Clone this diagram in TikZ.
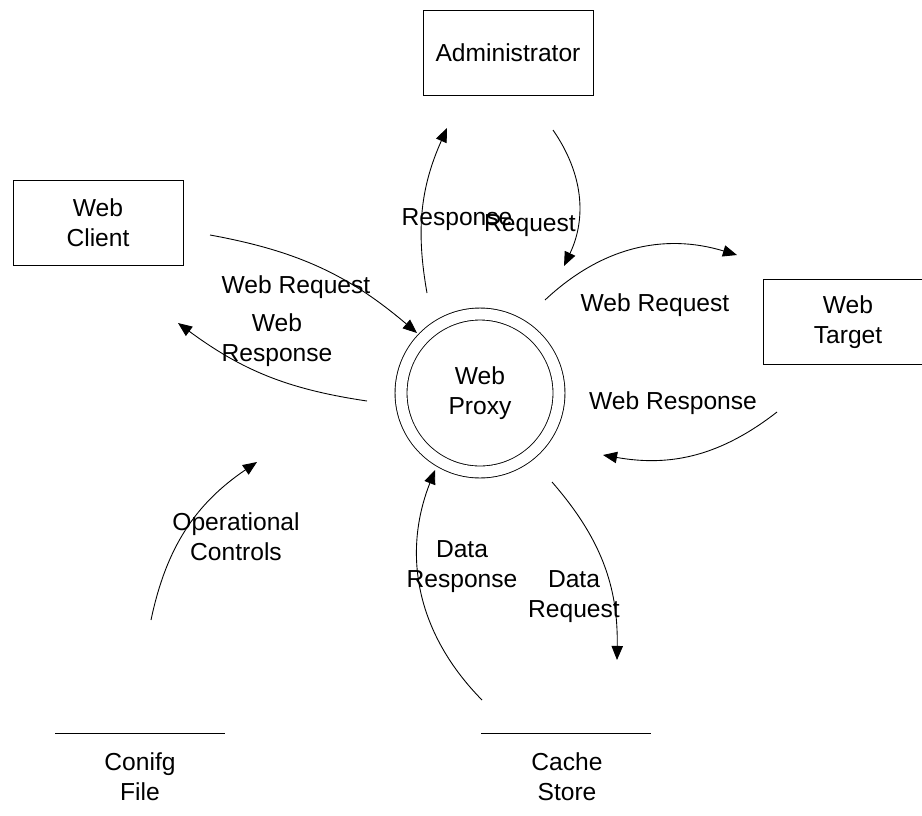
\documentclass[tikz,border=0pt]{standalone}
\usepackage{fontspec}
\setmainfont{Liberation Sans}
\usetikzlibrary{arrows.meta}

\begin{document}
\begin{tikzpicture}[x=0.02cm, y=-0.02cm,
    every node/.style={font=\fontsize{14}{17}\selectfont, align=center},
    entity/.style={draw, line width=0.5pt, minimum width=3.4cm, minimum height=1.7cm},
    flow/.style={-{Triangle[length=8pt,width=6.5pt]}, line width=0.5pt}]
    \useasboundingbox (0,0) rectangle (922,815);
    % External entities
    \node[entity] (admin) at (508,53) {Administrator};
    \node[entity] (client) at (98,223) {Web\\Client};
    \node[entity] (target) at (848,322) {Web\\Target};
    % Process
    \node[draw, circle, double, line width=0.5pt, double distance=6.3pt,
          minimum size=3.16cm] (proxy) at (480,393) {Web\\Proxy};
    % Data stores
    \draw[line width=0.5pt] (55,733) -- (225,733);
    \node (config) at (140,777) {Conifg\\File};
    \draw[line width=0.5pt] (481,733) -- (651,733);
    \node (cache) at (567,777) {Cache\\Store};
    % Flow ends
    \coordinate (cl-out) at (210,235);
    \coordinate (cl-in) at (178,323);
    \coordinate (ad-out) at (553,130);
    \coordinate (ad-in) at (447,128);
    \coordinate (tg-out) at (777,412);
    \coordinate (tg-in) at (737,255);
    \coordinate (ca-out) at (482,700);
    \coordinate (ca-in) at (617,660);
    \coordinate (cf-out) at (151,620);
    \coordinate (px-cl-in) at (417,333);
    \coordinate (px-cl-out) at (367,401);
    \coordinate (px-ad-out) at (427,293);
    \coordinate (px-ad-in) at (564,266);
    \coordinate (px-tg-out) at (545,300);
    \coordinate (px-tg-in) at (603,455);
    \coordinate (px-ca-out) at (552,482);
    \coordinate (px-ca-in) at (435,470);
    \coordinate (px-cf-in) at (257,462);
    % Flows
    \draw[flow] (cl-out) to[bend left=15] (px-cl-in);
    \draw[flow] (px-cl-out) to[bend left=14] (cl-in);
    \draw[flow] (px-ad-out) to[bend left=17] (ad-in);
    \draw[flow] (ad-out) to[bend left=30] (px-ad-in);
    \draw[flow] (px-tg-out) to[bend left=30] (tg-in);
    \draw[flow] (tg-out) to[bend left=24] (px-tg-in);
    \draw[flow] (px-ca-out) to[bend left=21] (ca-in);
    \draw[flow] (ca-out) to[bend left=33] (px-ca-in);
    \draw[flow] (cf-out) to[bend left=22] (px-cf-in);
    % Labels
    \node (l-creq) at (296,287) {Web Request};
    \node (l-cresp) at (277,340) {Web\\Response};
    \node (l-aresp) at (457,220) {Response};
    \node (l-areq) at (530,226) {Request};
    \node (l-treq) at (655,305) {Web Request};
    \node (l-tresp) at (673,403) {Web Response};
    \node (l-ctrl) at (236,537) {Operational\\Controls};
    \node (l-dresp) at (462,567) {Data\\Response};
    \node (l-dreq) at (574,597) {Data\\Request};
\end{tikzpicture}
\end{document}
